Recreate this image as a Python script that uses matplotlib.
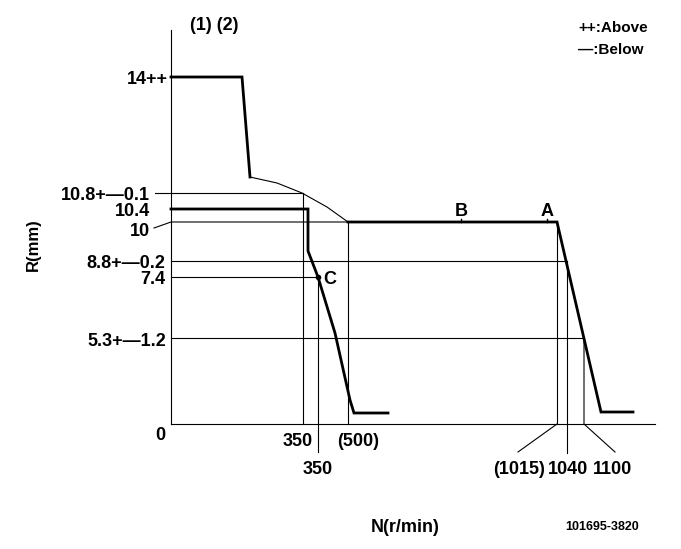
import matplotlib
matplotlib.use("Agg")
import matplotlib.pyplot as plt

# Schematic (not-to-scale) diagram coordinates: x grows right, y grows down
full_x = [171, 242, 250, 277, 302, 327, 348, 557, 601, 633]
full_y = [77, 77, 177, 183, 193, 207, 222, 222, 412, 412]
idle_x = [171, 308, 308, 318, 335, 350, 354, 388]
idle_y = [209, 209, 251, 277, 333, 400, 413, 413]

r_labels = ["14++", "10.8+\u20140.1", "10.4", "10", "8.8+\u20140.2", "7.4", "5.3+\u20141.2", "0"]
n_labels = ["350", "(500)", "350", "(1015)", "1040", "1100"]

plt.rcParams["font.family"] = ["Liberation Sans", "DejaVu Sans"]
plt.rcParams["font.weight"] = "bold"

fig = plt.figure(figsize=(6.81, 5.49), dpi=100)
ax = fig.add_axes([0, 0, 1, 1])
ax.set_xlim(0, 681)
ax.set_ylim(549, 0)
ax.axis("off")

thin = dict(color="black", lw=0.8)
thick = dict(color="black", lw=2.0, solid_joinstyle="miter")

# axes
ax.plot([171, 171], [30, 424], **thin)
ax.plot([171, 655], [424, 424], **thin)

# reference lines
ax.plot([155, 303], [193, 193], **thin)
ax.plot([303, 303], [193, 424], **thin)
ax.plot([154, 171, 348], [228, 222, 222], **thin)
ax.plot([348, 348], [222, 424], **thin)
ax.plot([171, 567], [261, 261], **thin)
ax.plot([171, 318], [277, 277], **thin)
ax.plot([318, 318], [277, 452], **thin)
ax.plot([171, 584], [338, 338], **thin)
ax.plot([557, 557], [222, 424], **thin)
ax.plot([557, 518], [424, 452], **thin)
ax.plot([567, 567], [261, 453], **thin)
ax.plot([584, 584, 615], [338, 424, 452], **thin)

# curves
ax.plot(full_x[2:7], full_y[2:7], color="black", lw=0.8)
ax.plot(full_x[:3], full_y[:3], **thick)
ax.plot(full_x[6:], full_y[6:], **thick)
ax.plot(idle_x, idle_y, **thick)

# markers
ax.plot([318], [277], "o", color="black", ms=3)
ax.plot([461, 461], [219, 222], color="black", lw=1)
ax.plot([547, 547], [219, 222], color="black", lw=1)

fs = 13
va = "center_baseline"
ax.text(168, 77, r_labels[0], ha="right", va=va, fontsize=fs)
ax.text(150, 193, r_labels[1], ha="right", va=va, fontsize=fs)
ax.text(150, 210, r_labels[2], ha="right", va=va, fontsize=fs)
ax.text(150, 229, r_labels[3], ha="right", va=va, fontsize=fs)
ax.text(165, 261, r_labels[4], ha="right", va=va, fontsize=fs)
ax.text(165, 278, r_labels[5], ha="right", va=va, fontsize=fs)
ax.text(166, 339, r_labels[6], ha="right", va=va, fontsize=fs)
ax.text(160, 434, r_labels[7], ha="center", va=va, fontsize=fs)

ax.text(298, 439, n_labels[0], ha="center", va=va, fontsize=fs)
ax.text(358, 439, n_labels[1], ha="center", va=va, fontsize=fs)
ax.text(318, 467, n_labels[2], ha="center", va=va, fontsize=fs)
ax.text(519, 467, n_labels[3], ha="center", va=va, fontsize=fs)
ax.text(568, 467, n_labels[4], ha="center", va=va, fontsize=fs)
ax.text(612, 467, n_labels[5], ha="center", va=va, fontsize=fs)

ax.text(323, 277, "C", ha="left", va=va, fontsize=fs)
ax.text(461, 210, "B", ha="center", va=va, fontsize=fs)
ax.text(547, 210, "A", ha="center", va=va, fontsize=fs)

ax.text(214, 24, "(1) (2)", ha="center", va=va, fontsize=fs)
ax.text(578, 27, "++:Above", ha="left", va=va, fontsize=11)
ax.text(578, 48, "\u2014:Below", ha="left", va=va, fontsize=11)

ax.text(33, 245, "R(mm)", ha="center", va="center", rotation=90, fontsize=12)
ax.text(405, 525, "N(r/min)", ha="center", va=va, fontsize=13)
ax.text(602, 525, "101695-3820", ha="center", va=va, fontsize=9)

fig.savefig("out.png", dpi=100)
